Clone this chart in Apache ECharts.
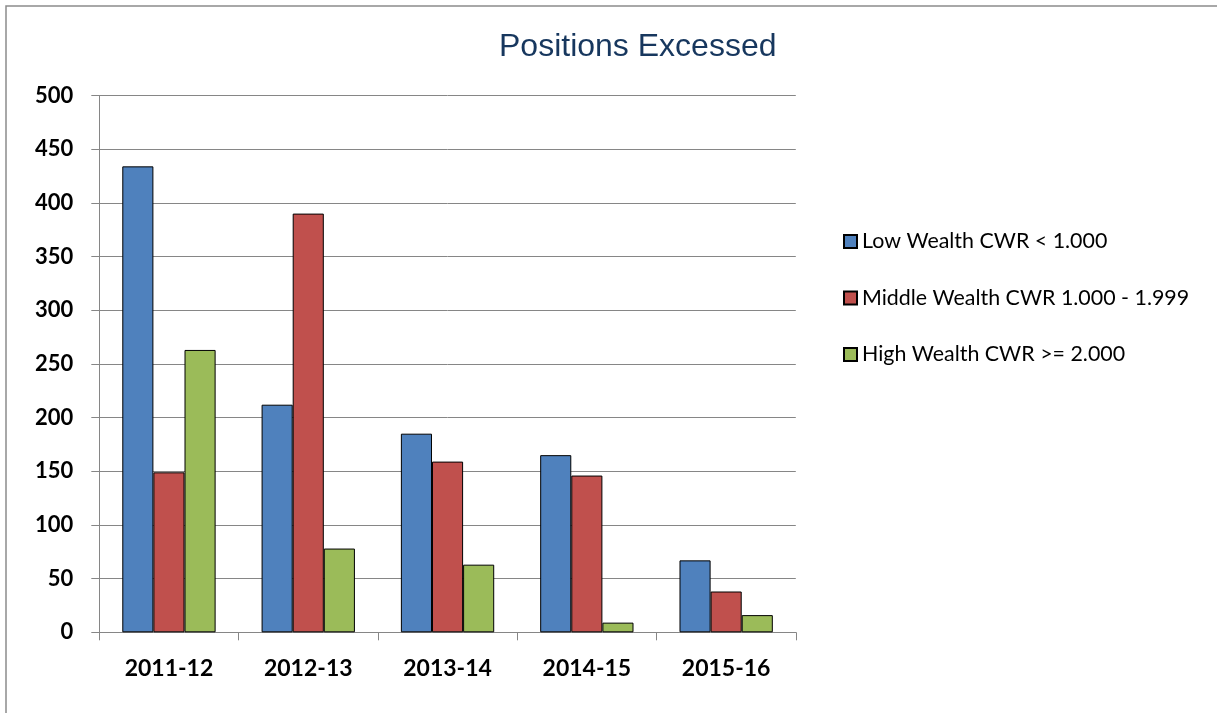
<!DOCTYPE html>
<html>
<head>
<meta charset="utf-8">
<script src="https://cdn.jsdelivr.net/npm/echarts@6/dist/echarts.min.js"></script>
<style>
html,body{margin:0;padding:0;background:#fff;}
#chart{width:1217px;height:713px;}
</style>
</head>
<body>
<div id="chart"></div>
<script>
const categories = ['2011-12', '2012-13', '2013-14', '2014-15', '2015-16'];
const seriesNames = ['Low Wealth CWR < 1.000', 'Middle Wealth CWR 1.000 - 1.999', 'High Wealth CWR >= 2.000'];
const lowWealth = [434, 212, 185, 165, 67];
const middleWealth = [149, 390, 159, 146, 38];
const highWealth = [263, 78, 63, 9, 16];
const yTicks = [0, 50, 100, 150, 200, 250, 300, 350, 400, 450, 500];

const colors = ['#4F81BD', '#C0504D', '#9BBB59'];
const chart = echarts.init(document.getElementById('chart'), null, {renderer: 'canvas'});
const gridColor = '#868686';
const dataSets = [lowWealth, middleWealth, highWealth];

chart.setOption({
  animation: false,
  backgroundColor: '#fff',
  graphic: [{
    type: 'rect',
    shape: {x: 6, y: 6, width: 1400, height: 900},
    style: {fill: 'none', stroke: '#8c8c8c', lineWidth: 1.5},
    silent: true, z: -10
  }],
  title: {
    text: 'Positions Excessed',
    left: 499, top: 31, padding: 0,
    textStyle: {fontFamily: 'Liberation Sans', fontWeight: 'normal', fontSize: 32, color: '#17375E'}
  },
  legend: {
    orient: 'vertical',
    left: 843, top: 231,
    itemWidth: 13, itemHeight: 13, itemGap: 35.5,
    icon: 'rect',
    padding: 0,
    textStyle: {fontFamily: 'Lato', fontSize: 21.4, lineHeight: 20, color: '#000'},
    data: seriesNames
  },
  grid: {left: 99.3, right: 421.2, top: 95.5, bottom: 80.7, containLabel: false},
  xAxis: {
    type: 'category',
    data: categories,
    boundaryGap: true,
    axisLine: {lineStyle: {color: gridColor, width: 1}},
    axisTick: {show: true, length: 8, alignWithLabel: false, lineStyle: {color: gridColor}},
    axisLabel: {fontFamily: 'Lato', fontWeight: 'bold', fontSize: 23, color: '#000', margin: 25}
  },
  yAxis: {
    type: 'value',
    min: 0, max: 500, interval: 50,
    axisLine: {show: true, lineStyle: {color: gridColor, width: 1}},
    axisTick: {show: true, length: 8, lineStyle: {color: gridColor}},
    splitLine: {show: true, lineStyle: {color: gridColor, width: 1}},
    axisLabel: {
      fontFamily: 'Lato', fontWeight: 'bold', fontSize: 22, color: '#000', margin: 26,
      formatter: v => yTicks.includes(v) ? String(v) : ''
    }
  },
  series: seriesNames.map((name, i) => ({
    name: name,
    type: 'bar',
    data: dataSets[i],
    barGap: '0%',
    barCategoryGap: '33%',
    itemStyle: {color: colors[i], borderColor: '#000', borderWidth: 1}
  }))
});
</script>
</body>
</html>
